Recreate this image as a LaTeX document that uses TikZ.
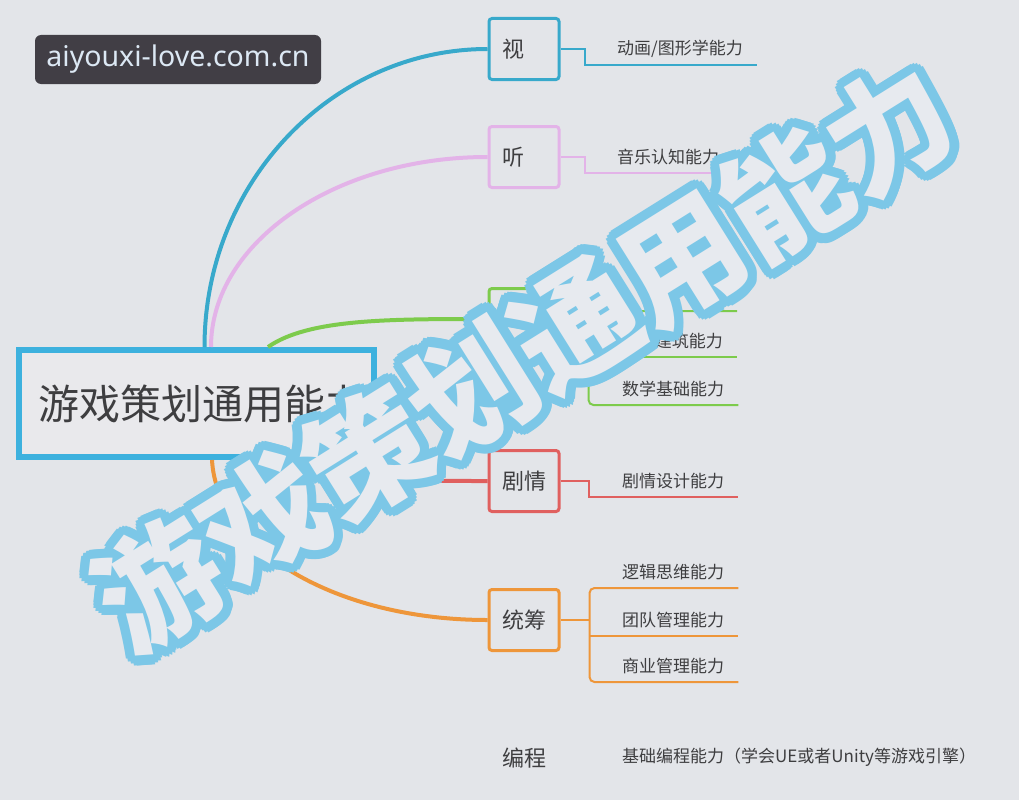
\documentclass[tikz,border=0pt]{standalone}
\usepackage{fontspec}
\setmainfont{Noto Sans}
\newfontfamily\cjk{Noto Sans CJK SC}
\usetikzlibrary{positioning,calc}

\definecolor{bgcol}{HTML}{E3E5E9}
\definecolor{rootfill}{HTML}{E9E9EC}
\definecolor{rootblue}{HTML}{3DB1DE}
\definecolor{visblue}{HTML}{38A9CB}
\definecolor{tingpink}{HTML}{E3B3E8}
\definecolor{grngreen}{HTML}{7DCB4C}
\definecolor{jqred}{HTML}{E0605F}
\definecolor{tcorange}{HTML}{EE963A}
\definecolor{wmblue}{HTML}{7CC7E7}
\definecolor{wmfill}{HTML}{E7EAEF}
\definecolor{txtgrey}{HTML}{3E3E40}
\definecolor{tagbg}{HTML}{413E45}
\definecolor{tagtxt}{HTML}{DCE8F4}

\tikzset{
  branch/.style={draw=#1, line width=3pt, rounded corners=3pt, fill=bgcol,
    minimum height=61pt, text width=44pt, inner xsep=13pt, align=left,
    anchor=west, font=\cjk\fontsize{22}{26}\selectfont, text=txtgrey},
  leaf/.style={anchor=south west, inner xsep=0pt, inner ysep=7.5pt,
    font=\cjk\fontsize{17}{20}\selectfont, text=txtgrey},
  twig/.style={draw=#1, line width=2pt},
  limb/.style={draw=#1, line width=4pt},
  wmark/.style={rotate=32, inner sep=0pt, font=\cjk\bfseries\fontsize{123}{125}\selectfont}
}

\begin{document}
\begin{tikzpicture}[x=1pt, y=-1pt]
  % page
  \fill[bgcol] (0,0) rectangle (1019,800);
  \useasboundingbox (0,0) rectangle (1019,800);

  % root
  \node[draw=rootblue, line width=6pt, fill=rootfill, minimum width=355pt, minimum height=107pt,
    font=\cjk\fontsize{41}{44}\selectfont, text=txtgrey] (root) at (196.5,403.5) {\hspace*{12pt}游戏策划通用能力};

  % branches
  \node[branch=visblue] (vis) at (487.5,49) {视};
  \node[branch=tingpink] (ting) at (487.5,157) {听};
  \node[branch=grngreen] (grn) at (487.5,319) {};
  \node[branch=jqred] (jq) at (487.5,481) {剧情};
  \node[branch=tcorange] (tc) at (487.5,620) {统筹};
  \node[branch=none] (bc) at (487.5,758) {编程};

  % curves from the root
  \draw[limb=visblue] (204.5,347) .. controls +(0,-165) and +(-155,0) .. (vis.west);
  \draw[limb=tingpink] (211,347) .. controls +(0,-105) and +(-152,0) .. (ting.west);
  \draw[limb=grngreen] (268,347) .. controls +(40,-28) and +(-100,0) .. (grn.west);
  \draw[limb=jqred] (300,460) .. controls +(30,21) and +(-80,0) .. (jq.west);
  \draw[limb=tcorange] (212,460) .. controls +(5,90) and +(-150,0) .. (tc.west);

  % leaves
  \node[leaf] (vis1) at (617,65) {动画/图形学能力};
  \node[leaf] (ting1) at (617,173) {音乐认知能力};
  \coordinate (g1) at (737,311);
  \node[leaf, anchor=south east] (g2) at (723,357) {建筑能力};
  \node[leaf] (g3) at (622,405) {数学基础能力};
  \node[leaf] (jq1) at (622,497) {剧情设计能力};
  \node[leaf] (tc1) at (622,588) {逻辑思维能力};
  \node[leaf] (tc2) at (622,636) {团队管理能力};
  \node[leaf] (tc3) at (622,682) {商业管理能力};
  \node[leaf, anchor=west] (bc1) at (622,757) {基础编程能力（学会UE或者Unity等游戏引擎）};

  \draw[twig=visblue] (vis.east) -- ++(24,0) |- ([xshift=14pt]vis1.south east);
  \draw[twig=tingpink] (ting.east) -- ++(24,0) |- ([xshift=14pt]ting1.south east);
  \draw[twig=grngreen] (grn.east) -- ++(28,0) coordinate (gj);
  \draw[twig=grngreen, rounded corners=5pt] (g1) -| (gj) |- ([xshift=14pt]g3.south east);
  \draw[twig=grngreen] (gj |- g2.south) -- ([xshift=14pt]g2.south east);
  \draw[twig=jqred] (jq.east) -- ++(28,0) |- ([xshift=14pt]jq1.south east);
  \draw[twig=tcorange] (tc.east) -- ++(29,0) coordinate (tj);
  \draw[twig=tcorange, rounded corners=5pt] ([xshift=14pt]tc1.south east) -| (tj) |- ([xshift=14pt]tc3.south east);
  \draw[twig=tcorange] (tj |- tc2.south) -- ([xshift=14pt]tc2.south east);

  % watermark
  \foreach \a in {0,20,...,340}
    \node[wmark, text=wmblue] at ($(524,356)+(\a:9.5)$) {游戏策划通用能力};
  \node[wmark, text=wmfill] (wm) at (524,356) {游戏策划通用能力};

  % site tag
  \node[fill=tagbg, rounded corners=6pt, minimum width=286pt, minimum height=49pt,
    text=tagtxt, font=\fontsize{28.5}{31}\selectfont] (tag) at (178,59.5) {aiyouxi-love.com.cn};
\end{tikzpicture}
\end{document}
